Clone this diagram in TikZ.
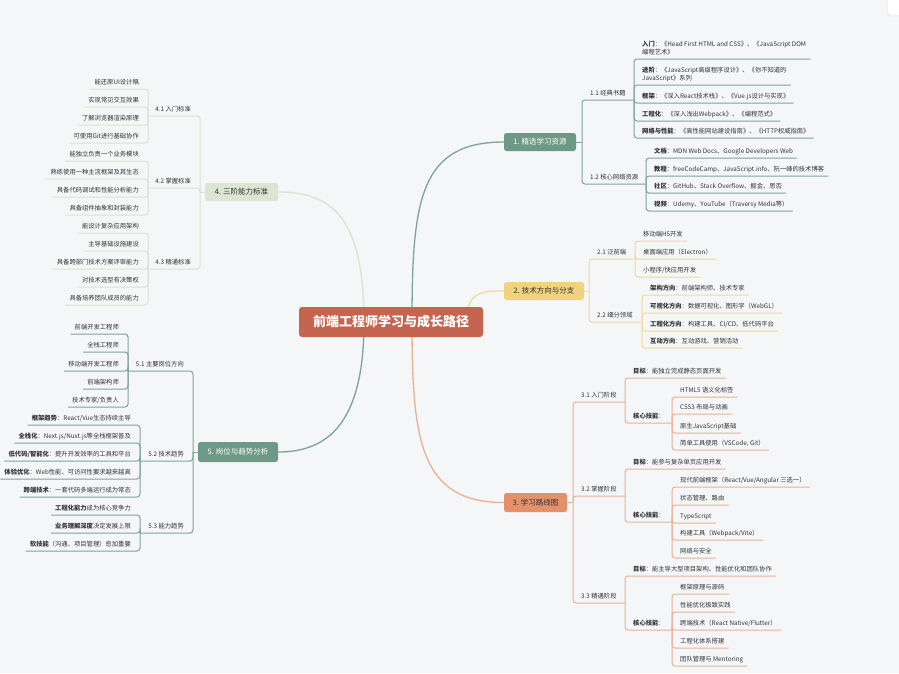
\documentclass[tikz,border=0pt]{standalone}
\usepackage{fontspec}
\setmainfont{Noto Sans CJK SC}
\pgfdeclarelayer{bg}
\pgfsetlayers{bg,main}
\definecolor{bgc}{HTML}{F4F6F8}
\definecolor{tc}{HTML}{333333}
\definecolor{cc}{HTML}{C6654F}
\definecolor{n1}{HTML}{6E9987}
\definecolor{l1}{HTML}{7BA596}
\definecolor{n2}{HTML}{F1D27E}
\definecolor{l2}{HTML}{F0D99A}
\definecolor{n3}{HTML}{E3916B}
\definecolor{l3}{HTML}{EAB094}
\definecolor{n4}{HTML}{DCE5D2}
\definecolor{l4}{HTML}{DAE4D0}
% right-side leaf: parent coord, name, bracket x, underline y, text
\newcommand\mmR[5]{%
  \node[leaf,anchor=base west] (#2) at ({#3+8},{#4-5}) {#5};
  \path[ln] (#1) -- (#3,#4) -- (#2.east |- #3,#4) -- ++(4,0);}
% left-side leaf
\newcommand\mmL[5]{%
  \node[leaf,anchor=base east] (#2) at ({#3-9},{#4-5}) {#5};
  \path[ln] (#1) -- (#3,#4) -- (#2.west |- #3,#4) -- ++(-4,0);}
% right-side sub label with fixed underline end
\newcommand\mmRS[6]{%
  \node[leaf,anchor=base west] (#2) at ({#3+8},{#4-5}) {#6};
  \coordinate (#2-e) at (#5,#4);
  \path[ln] (#1) -- (#3,#4) -- (#2-e);}
% left-side sub label
\newcommand\mmLS[6]{%
  \node[leaf,anchor=base east] (#2) at ({#3-9},{#4-5}) {#6};
  \coordinate (#2-e) at (#5,#4);
  \path[ln] (#1) -- (#3,#4) -- (#2-e);}
\begin{document}
\begin{tikzpicture}[x=1pt,y=-1pt,
  leaf/.style={inner sep=0pt, font=\fontsize{6.3}{8}\selectfont, text=tc, align=left},
  mainbox/.style={rounded corners=2.5pt, inner sep=0pt, minimum height=18pt, font=\fontsize{7.5}{9}\selectfont, text=tc},
  curve/.style={line width=1.3pt}]
\useasboundingbox (0,0) rectangle (899,673);
\begin{pgfonlayer}{bg}
\fill[bgc] (0,0) rectangle (899,673);
\end{pgfonlayer}
\fill[black!5, rounded corners=4pt] (886,-6) rectangle (910,17);
\fill[white, rounded corners=4pt] (888,-6) rectangle (910,15);

% root and main branches
\node[fill=cc, rounded corners=3pt, minimum width=184pt, minimum height=30pt, inner sep=0pt,
      text=white, font=\fontsize{13}{15}\selectfont\bfseries] (root) at (391,322) {前端工程师学习与成长路径};
\node[mainbox, fill=n1, text=white, minimum width=72pt] (b1) at (540,142) {1. 精选学习资源};
\node[mainbox, fill=n2, minimum width=80pt] (b2) at (544,291) {2. 技术方向与分支};
\node[mainbox, fill=n3, minimum width=63pt, minimum height=19pt] (b3) at (535.5,502.5) {3. 学习路线图};
\node[mainbox, fill=n4, minimum width=73pt] (b4) at (241.5,192) {4. 三阶能力标准};
\node[mainbox, fill=n1, text=white, minimum width=80pt, minimum height=20pt] (b5) at (238,452) {5. 岗位与趋势分析};

\begin{pgfonlayer}{bg}
\draw[curve, l1] ([xshift=21pt]root.center) .. controls +(0,-122) and +(-84,0) .. (b1.west);
\draw[curve, l2] ([xshift=74pt]root.center) .. controls +(3,-31) and +(-22,0) .. (b2.west);
\draw[curve, l3] ([xshift=21pt]root.center) .. controls +(0,118) and +(-84,0) .. (b3.west);
\draw[curve, l4] ([xshift=-27pt]root.center) .. controls +(0,-107) and +(52,0) .. (b4.east);
\draw[curve, l1] ([xshift=-27pt]root.center) .. controls +(0,98) and +(52,0) .. (b5.east);
\end{pgfonlayer}

% ---------- branch 1 ----------
\begin{scope}[ln/.style={draw=l1, line width=1pt, rounded corners=3pt}]
\coordinate (k1) at (582,142);
\path[ln] (b1.east) -- (k1);
\mmRS{k1}{s11}{582}{100}{634}{1.1 经典书籍}
\mmRS{k1}{s12}{582}{184}{646}{1.2 核心网络资源}
\mmR{s11-e}{a1}{634}{59}{\textbf{入门}：《Head First HTML and CSS》、《JavaScript DOM\\编程艺术》}
\mmR{s11-e}{a2}{634}{85}{\textbf{进阶}：《JavaScript高级程序设计》、《你不知道的\\JavaScript》系列}
\mmR{s11-e}{a3}{634}{103}{\textbf{框架}：《深入React技术栈》、《Vue.js设计与实现》}
\mmR{s11-e}{a4}{634}{121}{\textbf{工程化}：《深入浅出Webpack》、《编程范式》}
\mmR{s11-e}{a5}{634}{138}{\textbf{网络与性能}：《高性能网站建设指南》、《HTTP权威指南》}
\mmR{s12-e}{a6}{646}{158}{\textbf{文档}：MDN Web Docs、Google Developers Web}
\mmR{s12-e}{a7}{646}{176}{\textbf{教程}：freeCodeCamp、JavaScript.info、阮一峰的技术博客}
\mmR{s12-e}{a8}{646}{193}{\textbf{社区}：GitHub、Stack Overflow、掘金、思否}
\mmR{s12-e}{a9}{646}{211}{\textbf{视频}：Udemy、YouTube（Traversy Media等）}
\end{scope}

% ---------- branch 2 ----------
\begin{scope}[ln/.style={draw=l2, line width=1pt, rounded corners=3pt}]
\coordinate (k2) at (589,291);
\path[ln] (b2.east) -- (k2);
\mmRS{k2}{s21}{589}{259}{635}{2.1 泛前端}
\mmRS{k2}{s22}{589}{322}{642}{2.2 细分领域}
\mmR{s21-e}{c1}{635}{241}{移动端H5开发}
\mmR{s21-e}{c2}{635}{259}{桌面端应用（Electron）}
\mmR{s21-e}{c3}{635}{277}{小程序/快应用开发}
\mmR{s22-e}{c4}{642}{295}{\textbf{架构方向}：前端架构师、技术专家}
\mmR{s22-e}{c5}{642}{313}{\textbf{可视化方向}：数据可视化、图形学（WebGL）}
\mmR{s22-e}{c6}{642}{331}{\textbf{工程化方向}：构建工具、CI/CD、低代码平台}
\mmR{s22-e}{c7}{642}{348}{\textbf{互动方向}：互动游戏、营销活动}
\end{scope}

% ---------- branch 3 ----------
\begin{scope}[ln/.style={draw=l3, line width=1pt, rounded corners=3pt}]
\coordinate (k3) at (573,502.5);
\path[ln] (b3.east) -- (k3);
\mmRS{k3}{s31}{573}{402}{625}{3.1 入门阶段}
\mmRS{k3}{s32}{573}{496}{625}{3.2 掌握阶段}
\mmRS{k3}{s33}{573}{603}{625}{3.3 精通阶段}
% 3.1
\mmR{s31-e}{d1}{625}{378}{\textbf{目标}：能独立完成静态页面开发}
\mmRS{s31-e}{s31k}{625}{423}{672}{\textbf{核心技能}：}
\mmR{s31k-e}{d2}{672}{397}{HTML5 语义化标签}
\mmR{s31k-e}{d3}{672}{414}{CSS3 布局与动画}
\mmR{s31k-e}{d4}{672}{433}{原生JavaScript基础}
\mmR{s31k-e}{d5}{672}{450}{简单工具使用（VSCode, Git）}
% 3.2
\mmR{s32-e}{e1}{625}{469}{\textbf{目标}：能参与复杂单页应用开发}
\mmRS{s32-e}{s32k}{625}{522}{672}{\textbf{核心技能}：}
\mmR{s32k-e}{e2}{672}{487}{现代前端框架（React/Vue/Angular 三选一）}
\mmR{s32k-e}{e3}{672}{505}{状态管理、路由}
\mmR{s32k-e}{e4}{672}{523}{TypeScript}
\mmR{s32k-e}{e5}{672}{540}{构建工具（Webpack/Vite）}
\mmR{s32k-e}{e6}{672}{558}{网络与安全}
% 3.3
\mmR{s33-e}{f1}{625}{576}{\textbf{目标}：能主导大型项目架构、性能优化和团队协作}
\mmRS{s33-e}{s33k}{625}{630}{672}{\textbf{核心技能}：}
\mmR{s33k-e}{f2}{672}{594}{框架原理与源码}
\mmR{s33k-e}{f3}{672}{612}{性能优化极致实践}
\mmR{s33k-e}{f4}{672}{630}{跨端技术（React Native/Flutter）}
\mmR{s33k-e}{f5}{672}{648}{工程化体系搭建}
\mmR{s33k-e}{f6}{672}{666}{团队管理与 Mentoring}
\end{scope}

% ---------- branch 4 ----------
\begin{scope}[ln/.style={draw=l4, line width=1pt, rounded corners=3pt}]
\coordinate (k4) at (200,192);
\path[ln] (b4.west) -- (k4);
\mmLS{k4}{s41}{200}{116}{148}{4.1 入门标准}
\mmLS{k4}{s42}{200}{188}{148}{4.2 掌握标准}
\mmLS{k4}{s43}{200}{269}{148}{4.3 精通标准}
\mmL{s41-e}{g1}{148}{89}{能还原UI设计稿}
\mmL{s41-e}{g2}{148}{107}{实现常见交互效果}
\mmL{s41-e}{g3}{148}{125}{了解浏览器渲染原理}
\mmL{s41-e}{g4}{148}{143}{可使用Git进行基础协作}
\mmL{s42-e}{g5}{148}{161}{能独立负责一个业务模块}
\mmL{s42-e}{g6}{148}{179}{熟练使用一种主流框架及其生态}
\mmL{s42-e}{g7}{148}{197}{具备代码调试和性能分析能力}
\mmL{s42-e}{g8}{148}{215}{具备组件抽象和封装能力}
\mmL{s43-e}{g9}{148}{233}{能设计复杂应用架构}
\mmL{s43-e}{g10}{148}{251}{主导基础设施建设}
\mmL{s43-e}{g11}{148}{269}{具备跨部门技术方案评审能力}
\mmL{s43-e}{g12}{148}{287}{对技术选型有决策权}
\mmL{s43-e}{g13}{148}{305}{具备培养团队成员的能力}
\end{scope}

% ---------- branch 5 ----------
\begin{scope}[ln/.style={draw=l1, line width=1pt, rounded corners=3pt}]
\coordinate (k5) at (193,452);
\path[ln] (b5.west) -- (k5);
\mmLS{k5}{s51}{193}{371}{128}{5.1 主要岗位方向}
\mmLS{k5}{s52}{193}{461}{140}{5.2 技术趋势}
\mmLS{k5}{s53}{193}{533}{140}{5.3 能力趋势}
\mmL{s51-e}{h1}{128}{334}{前端开发工程师}
\mmL{s51-e}{h2}{128}{352}{全栈工程师}
\mmL{s51-e}{h3}{128}{371}{移动端开发工程师}
\mmL{s51-e}{h4}{128}{389}{前端架构师}
\mmL{s51-e}{h5}{128}{407}{技术专家/负责人}
\mmL{s52-e}{h6}{140}{425}{\textbf{框架趋势}：React/Vue生态持续主导}
\mmL{s52-e}{h7}{140}{443}{\textbf{全栈化}：Next.js/Nuxt.js等全栈框架普及}
\mmL{s52-e}{h8}{140}{461}{\textbf{低代码/智能化}：提升开发效率的工具和平台}
\mmL{s52-e}{h9}{140}{479}{\textbf{体验优化}：Web性能、可访问性要求越来越高}
\mmL{s52-e}{h10}{140}{497}{\textbf{跨端技术}：一套代码多端运行成为常态}
\mmL{s53-e}{h11}{140}{515}{\textbf{工程化能力}成为核心竞争力}
\mmL{s53-e}{h12}{140}{533}{\textbf{业务理解深度}决定发展上限}
\mmL{s53-e}{h13}{140}{551}{\textbf{软技能}（沟通、项目管理）愈加重要}
\end{scope}
\end{tikzpicture}
\end{document}
